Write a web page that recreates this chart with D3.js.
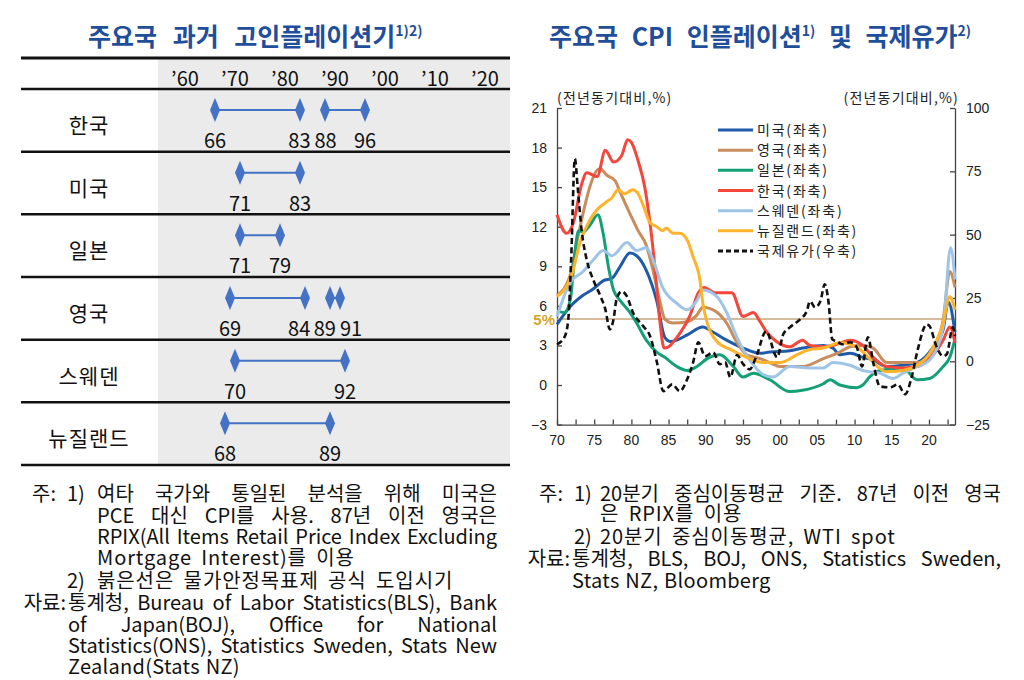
<!DOCTYPE html>
<html><head><meta charset="utf-8">
<script src="https://cdn.jsdelivr.net/npm/d3@7"></script>
<style>body{margin:0;background:#fff}svg{display:block}</style>
</head><body>
<svg id="c" width="1024" height="680"></svg>
<script>
// ---------------- DATA ----------------
const decadeYears = [1960, 1970, 1980, 1990, 2000, 2010, 2020];
const decadeLabels = ["’60", "’70", "’80", "’90", "’00", "’10", "’20"];
const countries = ["한국", "미국", "일본", "영국", "스웨덴", "뉴질랜드"];
const highInflationPeriods = [
  [[1966, 1983], [1988, 1996]],
  [[1971, 1983]],
  [[1971, 1979]],
  [[1969, 1984], [1989, 1991]],
  [[1970, 1992]],
  [[1968, 1989]]
];

const seriesNames = ["미국(좌축)", "영국(좌축)", "일본(좌축)", "한국(좌축)", "스웨덴(좌축)", "뉴질랜드(좌축)", "국제유가(우축)"];

const usCPI = [[1970,4.6],[1971.7,5.9],[1973.5,6.8],[1974.9,7.3],[1976.2,7.9],[1977.4,8.1],[1978.5,9.0],[1979.8,10.0],[1980.7,9.8],[1982,8.7],[1983.4,6.4],[1984.5,3.6],[1985.2,3.3],[1986.1,3.4],[1987.5,3.8],[1989.6,4.4],[1991,4.0],[1992.8,3.4],[1995,2.8],[1997.3,2.4],[1998.6,2.5],[2001.3,2.6],[2003,2.8],[2005.8,3.0],[2007.1,2.8],[2008,2.3],[2009.4,2.4],[2011.1,2.1],[2012.5,1.9],[2014.3,1.4],[2016.5,1.5],[2018.4,1.7],[2020.6,2.9],[2021.9,4.2],[2022.6,6.3],[2023.5,4.0]];
const ukCPI = [[1970,6.8],[1971.7,8.2],[1972.8,11.2],[1973.5,13],[1974.4,15],[1975.4,16.3],[1975.8,16.4],[1976.7,15.9],[1977.8,15.5],[1978.5,14.6],[1979.8,13],[1980.9,11.7],[1982,10.6],[1982.9,8.7],[1983.8,6.4],[1984.5,5.0],[1985.6,4.7],[1987.5,4.8],[1988.8,5.3],[1989.6,5.9],[1991,5.7],[1992.8,4.7],[1994.2,3.2],[1995.5,2.3],[1997.3,2.0],[1998.6,1.7],[2000,1.4],[2001.7,1.4],[2003,1.4],[2005.8,2.0],[2008,2.5],[2009.4,2.9],[2011.1,3.0],[2012.5,2.8],[2014.3,1.7],[2016.5,1.7],[2018.4,1.7],[2020.6,2.6],[2021.9,4.9],[2022.8,8.6],[2023.5,7.4]];
const japanCPI = [[1970,5.6],[1971,5.5],[1971.8,6.5],[1972.4,10],[1972.9,11.7],[1973.5,11.6],[1974.4,12.1],[1975.5,12.9],[1976.2,11.5],[1976.9,9],[1977.6,7.2],[1978.5,6.4],[1979.8,5.5],[1980.7,4.7],[1982,3.4],[1983.4,2.5],[1984.5,2.1],[1986.1,1.4],[1987.5,1.1],[1988.8,1.4],[1990.2,2.0],[1991.9,2.3],[1993.7,1.4],[1995,0.6],[1996.4,0.9],[1998.6,0.4],[2001.3,-0.5],[2003,-0.4],[2005.8,0.1],[2006.7,0.4],[2008,0],[2010.3,-0.2],[2011.1,0],[2012,0.6],[2013.4,1.1],[2016.5,1.3],[2018.4,0.4],[2020.1,0.5],[2021.9,1.4],[2022.8,2.1],[2023.5,3.5]];
const koreaCPI = [[1970,12.9],[1971.3,11.5],[1972.2,12.3],[1973.3,15.2],[1974,16.1],[1975.4,15.8],[1976.5,17.8],[1977.6,16.9],[1978.7,17.4],[1979.5,18.6],[1980,18.4],[1980.9,17],[1981.8,15],[1982.5,12.3],[1983.2,8.7],[1983.8,5],[1984.4,2.8],[1985,2.9],[1986.1,3.6],[1987.9,5.3],[1989,7.0],[1989.8,7.4],[1991.2,7.0],[1993.5,7.0],[1995,5.2],[1996.4,5.5],[1997.3,4.8],[1998.2,4.0],[1999.5,3.3],[2001.3,2.9],[2003,3.4],[2004,3.0],[2005.8,2.9],[2007.1,3.0],[2009.4,3.4],[2011.1,3.0],[2012.5,2.1],[2014.3,1.4],[2016.5,1.3],[2018.4,1.4],[2020.6,2.3],[2021.9,3.4],[2022.8,4.4],[2023.5,3.2]];
const swedenCPI = [[1970,5.2],[1971.7,7.7],[1973.5,8.6],[1974.9,9.5],[1976.2,10.2],[1977.4,9.8],[1979.4,10.8],[1980.7,10.2],[1982,10.4],[1982.9,9.5],[1984.2,7.4],[1986.1,6.2],[1987.5,5.7],[1988.8,6.4],[1989.6,7.2],[1991.5,6.7],[1992.8,5.5],[1994.2,3.6],[1995.9,1.9],[1997.7,0.8],[1999,0.6],[2001.3,1.4],[2004,1.3],[2005.8,1.3],[2007.1,1.7],[2009.4,1.5],[2011.1,1.1],[2013.4,0.9],[2015.2,0.5],[2016.5,0.9],[2018.4,1.4],[2020.1,1.9],[2021.9,4.4],[2022.9,10.4],[2023.5,8.0]];
const nzCPI = [[1970,6.7],[1971.5,7.7],[1972,8.4],[1973.1,10.8],[1974.4,12.5],[1975.4,13.3],[1976.7,13.9],[1977.4,14.2],[1978.2,14.8],[1979.1,14.5],[1980.2,14.8],[1980.9,14.5],[1981.8,13.3],[1982.5,12.3],[1983.4,12],[1984.2,11.7],[1984.7,11.9],[1985.6,11.5],[1986.5,11.5],[1987.5,11],[1988.3,9.7],[1989.2,8],[1989.6,6.2],[1990.2,4.7],[1991.5,3.3],[1993.3,2.7],[1995.5,2.1],[1997.7,1.7],[2000,1.7],[2002.3,2.3],[2004,2.7],[2005.8,2.8],[2008,3.2],[2010.3,2.9],[2012,2.0],[2014.3,1.0],[2016.5,1.1],[2018.4,1.5],[2020.1,2.4],[2021.9,4.7],[2022.8,6.7],[2023.5,5.7]];
const oilWTI = [[1970,6.7],[1971,9.5],[1971.5,16],[1971.9,40],[1972.4,80],[1972.8,68],[1973.3,52],[1974,40],[1974.9,32],[1975.8,26],[1976.5,20.5],[1977.1,12.6],[1977.6,16.6],[1978,24.4],[1978.7,27.6],[1979.4,25.6],[1980.2,19.3],[1981.6,13.8],[1982.5,10],[1983.4,0],[1984.3,-11.8],[1985.5,-9.1],[1986.5,-11.8],[1987.5,-7.1],[1988.3,-0.4],[1989,7.5],[1989.9,2],[1991,3.5],[1991.9,-1.2],[1992.6,-0.4],[1993.3,-6.3],[1994.2,2.5],[1995,-1],[1995.9,-3.2],[1996.8,2],[1998.1,11.8],[1999.6,1.6],[2000.4,10.6],[2001.3,13.4],[2002.7,16.6],[2003.6,20],[2004,23.7],[2004.7,21.3],[2005.4,23.7],[2006,30.4],[2006.5,23.3],[2007,8.7],[2007.6,7.9],[2008.4,6.7],[2009.4,7.5],[2010.3,5.5],[2011,-2],[2011.8,9.5],[2012.5,-0.4],[2013.4,-9.9],[2014.8,-10.3],[2015.8,-9.1],[2016.8,-13],[2017.7,-5.9],[2018.5,4.7],[2019.7,14.6],[2020.1,13.8],[2021,5.9],[2021.9,2],[2022.4,2.8],[2023.2,13.4],[2023.5,10]];

const leftTicks = [-3, 0, 3, 6, 9, 12, 15, 18, 21];
const rightTicks = [-25, 0, 25, 50, 75, 100];
const xTickYears = d3.range(1970, 2023, 2.5);
const xLabelYears = [1970, 1975, 1980, 1985, 1990, 1995, 2000, 2005, 2010, 2015, 2020];
const targetRate = 5;

const notesLeft = [
  {pre: "주:", num: "1)", text: "여타 국가와 통일된 분석을 위해 미국은", j: true},
  {text: "PCE 대신 CPI를 사용. 87년 이전 영국은", j: true},
  {text: "RPIX(All Items Retail Price Index Excluding", j: true},
  {text: "Mortgage Interest)를 이용", j: false},
  {num: "2)", text: "붉은선은 물가안정목표제 공식 도입시기", j: false},
  {pre: "자료:", text: "통계청, Bureau of Labor Statistics(BLS), Bank", j: true, src: true},
  {text: "of Japan(BOJ), Office for National", j: true, src: true},
  {text: "Statistics(ONS), Statistics Sweden, Stats New", j: true, src: true},
  {text: "Zealand(Stats NZ)", j: false, src: true}
];
const notesRight = [
  {pre: "주:", num: "1)", text: "20분기 중심이동평균 기준. 87년 이전 영국", j: true},
  {text: "은 RPIX를 이용", j: false},
  {num: "2)", text: "20분기 중심이동평균, WTI spot", j: false},
  {pre: "자료:", text: "통계청, BLS, BOJ, ONS, Statistics Sweden,", j: true, src: true},
  {text: "Stats NZ, Bloomberg", j: false, src: true}
];

// ---------------- DRAW ----------------
const svg = d3.select("#c");
const KR = "'Noto Sans CJK KR', 'Noto Sans', sans-serif";
const AR = "'Liberation Sans', Arial, sans-serif";
const titleColor = "#1f4e9a";

function title(x, y, size, ws, parts) {
  const t = svg.append("text").attr("x", x).attr("y", y)
    .attr("font-family", KR).attr("font-weight", 700).attr("font-size", size)
    .attr("fill", titleColor).attr("word-spacing", ws);
  parts.forEach(p => {
    if (p.sup) t.append("tspan").attr("font-size", 14).attr("dy", -10).text(p.t);
    else t.append("tspan").attr("dy", p.reset ? 10 : 0).text(p.t);
  });
}
title(88, 46, 25, 10, [{t: "주요국 과거 고인플레이션기"}, {t: "1)2)", sup: true}]);
title(549, 46, 25, 8, [{t: "주요국 CPI 인플레이션"}, {t: "1)", sup: true}, {t: " 및 국제유가", reset: true}, {t: "2)", sup: true}]);

// ----- Left panel table -----
const L = svg.append("g");
const tx = d3.scaleLinear().domain([1960, 2020]).range([185, 485]);
const rows = d3.scaleBand().domain(countries).range([89, 465]);
L.append("rect").attr("x", 158).attr("y", 59).attr("width", 352).attr("height", 406).attr("fill", "#ebebeb");
const hLines = [58, 89].concat(countries.map(c => rows(c) + rows.bandwidth()));
L.selectAll("line.h").data(hLines).join("line")
  .attr("x1", 21).attr("x2", 510).attr("y1", d => d).attr("y2", d => d)
  .attr("stroke", "#111").attr("stroke-width", (d, i) => i === 0 ? 3 : 2.5);
L.selectAll("text.dec").data(decadeYears).join("text")
  .attr("x", d => tx(d)).attr("y", 86).attr("text-anchor", "middle")
  .attr("font-family", KR).attr("font-size", 20).attr("fill", "#111")
  .text((d, i) => decadeLabels[i]);
L.selectAll("text.cn").data(countries).join("text")
  .attr("x", 89).attr("y", d => rows(d) + 44).attr("text-anchor", "middle")
  .attr("font-family", KR).attr("font-size", 21).attr("letter-spacing", 1).attr("fill", "#111").text(d => d);

const diamond = "M0,-12L5,0L0,12L-5,0Z";
const blue = "#4472c4";
countries.forEach((c, ci) => {
  const y0 = rows(c) + 21;
  const periods = highInflationPeriods[ci];
  const g = L.append("g");
  periods.forEach(p => {
    g.append("line").attr("x1", tx(p[0])).attr("x2", tx(p[1])).attr("y1", y0).attr("y2", y0)
      .attr("stroke", blue).attr("stroke-width", 2);
    p.forEach(yr => g.append("path").attr("d", diamond).attr("transform", `translate(${tx(yr)},${y0})`).attr("fill", blue));
  });
  const yrs = periods.flat();
  const labs = yrs.map(yr => g.append("text").attr("y", rows(c) + 59).attr("text-anchor", "middle")
    .attr("font-family", KR).attr("font-size", 20).attr("fill", "#111").text(String(yr).slice(2)));
  const pos = yrs.map(yr => tx(yr));
  const w = labs.map(l => l.node().getComputedTextLength());
  for (let k = 0; k < 3; k++) {
    for (let i = 1; i < pos.length; i++) {
      const need = (w[i] + w[i - 1]) / 2 + 4;
      const gap = pos[i] - pos[i - 1];
      if (gap < need) { const s = (need - gap) / 2; pos[i - 1] -= s; pos[i] += s; }
    }
  }
  labs.forEach((l, i) => l.attr("x", pos[i]));
});

// ----- Right chart -----
const x = d3.scaleLinear().domain([1970, 2023.5]).range([557, 955]);
const yL = d3.scaleLinear().domain([-3, 21]).range([424.6, 108]);
const yR = d3.scaleLinear().domain([-25, 100]).range([424.6, 108]);
const C = svg.append("g");
const axisColor = "#444";

const ax = C.append("g").attr("transform", "translate(0,424.6)")
  .call(d3.axisBottom(x).tickValues(xTickYears).tickSizeInner(-5).tickSizeOuter(0).tickFormat(""));
const ayl = C.append("g").attr("transform", "translate(557,0)")
  .call(d3.axisLeft(yL).tickValues(leftTicks).tickSizeInner(-5).tickSizeOuter(0).tickFormat(""));
const ayr = C.append("g").attr("transform", "translate(955,0)")
  .call(d3.axisRight(yR).tickValues(rightTicks).tickSizeInner(-5).tickSizeOuter(0).tickFormat(""));
[ax, ayl, ayr].forEach(a => { a.selectAll("path,line").attr("stroke", axisColor).attr("stroke-width", 1.3); });

const fmtNum = v => (v < 0 ? "\u2212" + Math.abs(v) : String(v));
C.selectAll("text.xl").data(xLabelYears).join("text")
  .attr("x", d => x(d)).attr("y", 445).attr("text-anchor", "middle")
  .attr("font-family", AR).attr("font-size", 14).attr("fill", "#222")
  .text(d => String(d % 100).padStart(2, "0"));
C.selectAll("text.yl").data(leftTicks).join("text")
  .attr("x", 547).attr("y", d => yL(d) + 5).attr("text-anchor", "end")
  .attr("font-family", AR).attr("font-size", 14).attr("fill", "#222").text(fmtNum);
C.selectAll("text.yr").data(rightTicks).join("text")
  .attr("x", 966).attr("y", d => yR(d) + 5).attr("text-anchor", "start")
  .attr("font-family", AR).attr("font-size", 14).attr("fill", "#222").text(fmtNum);

C.append("text").attr("x", 557).attr("y", 103).attr("font-family", KR).attr("font-size", 14)
  .attr("letter-spacing", 1.2).attr("fill", "#222").text("(전년동기대비,%)");
C.append("text").attr("x", 959).attr("y", 103).attr("text-anchor", "end").attr("font-family", KR).attr("font-size", 14)
  .attr("letter-spacing", 1.2).attr("fill", "#222").text("(전년동기대비,%)");

C.append("line").attr("x1", x(1970)).attr("x2", x(2023.5)).attr("y1", yL(targetRate)).attr("y2", yL(targetRate))
  .attr("stroke", "#c9a57d").attr("stroke-width", 1.6);
C.append("text").attr("x", 555).attr("y", yL(targetRate) + 6).attr("text-anchor", "end")
  .attr("font-family", AR).attr("font-weight", 700).attr("font-size", 15).attr("fill", "#d4a52a").text(targetRate + "%");

const series = [
  {d: usCPI, c: "#1f5ba8", ax: yL},
  {d: ukCPI, c: "#c98c5c", ax: yL},
  {d: japanCPI, c: "#14a076", ax: yL},
  {d: koreaCPI, c: "#f4473b", ax: yL},
  {d: swedenCPI, c: "#9fc4e7", ax: yL},
  {d: nzCPI, c: "#fdb32c", ax: yL},
  {d: oilWTI, c: "#111", ax: yR, dash: "6,3.5"}
];
series.forEach(s => {
  const line = d3.line().x(d => x(d[0])).y(d => s.ax(d[1])).curve(d3.curveMonotoneX);
  C.append("path").datum(s.d).attr("d", line).attr("fill", "none")
    .attr("stroke", s.c).attr("stroke-width", s.dash ? 2.6 : 3)
    .attr("stroke-dasharray", s.dash || null).attr("stroke-linejoin", "round");
});

const lg = C.append("g");
const ly = d3.scalePoint().domain(seriesNames).range([130, 251]);
seriesNames.forEach((n, i) => {
  lg.append("line").attr("x1", 718).attr("x2", 753).attr("y1", ly(n)).attr("y2", ly(n))
    .attr("stroke", series[i].c).attr("stroke-width", 3).attr("stroke-dasharray", series[i].dash ? "5,3" : null);
  lg.append("text").attr("x", 757).attr("y", ly(n) + 5).attr("font-family", KR).attr("font-size", 14)
    .attr("letter-spacing", 1.8).attr("fill", "#222").text(n);
});

// ----- Notes -----
function justify(g, str, x0, x1, y, doJ) {
  if (!doJ) {
    const hasKo = /[\uAC00-\uD7A3]/.test(str);
    g.append("text").attr("x", x0).attr("y", y)
      .attr("letter-spacing", hasKo ? 0.9 : 0.3).attr("word-spacing", hasKo ? 4 : 1).text(str);
    return;
  }
  const ws = str.split(" ");
  const nodes = ws.map(w => g.append("text").attr("y", y).text(w));
  const widths = nodes.map(n => n.node().getComputedTextLength());
  const gap = (x1 - x0 - d3.sum(widths)) / (ws.length - 1);
  let cx = x0;
  nodes.forEach((n, i) => { n.attr("x", cx); cx += widths[i] + gap; });
}
function notes(list, cfg) {
  const g = svg.append("g").attr("font-family", KR).attr("font-size", 20).attr("fill", "#111");
  list.forEach((ln, i) => {
    const y = cfg.ys[i];
    if (ln.pre) g.append("text").attr("x", ln.src ? cfg.srcPreEnd : cfg.prePreEnd).attr("y", y)
      .attr("text-anchor", "end").text(ln.pre);
    if (ln.num) g.append("text").attr("x", cfg.numX).attr("y", y).text(ln.num);
    const x0 = ln.src ? cfg.srcX : cfg.textX;
    justify(g, ln.text, x0, cfg.x1, y, ln.j);
  });
}
notes(notesLeft, {ys: [501, 523, 544, 565, 588, 610, 632, 653, 674], prePreEnd: 56, srcPreEnd: 66, numX: 67, textX: 97, srcX: 68, x1: 497});
notes(notesRight, {ys: [501, 521, 544, 566, 588], prePreEnd: 563, srcPreEnd: 570, numX: 574, textX: 600, srcX: 572, x1: 1001});
</script>
</body></html>
